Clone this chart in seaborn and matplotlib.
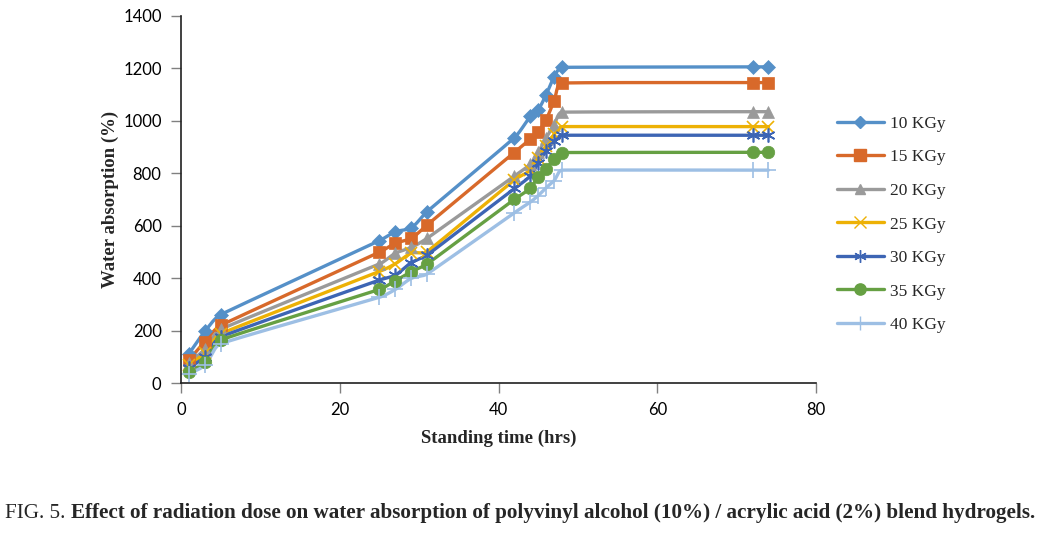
import numpy as np
import pandas as pd
import matplotlib
matplotlib.use("Agg")
import matplotlib.pyplot as plt
import seaborn as sns

# ---- data ----
hours = [1, 3, 5, 25, 27, 29, 31, 42, 44, 45, 46, 47, 48, 72, 74]
series_names = ["10 KGy", "15 KGy", "20 KGy", "25 KGy", "30 KGy", "35 KGy", "40 KGy"]
kgy10 = [112, 197, 261, 543, 577, 592, 654, 936, 1018, 1043, 1100, 1168, 1204, 1206, 1206]
kgy15 = [88, 158, 220, 499, 533, 552, 603, 879, 930, 958, 1005, 1076, 1144, 1146, 1146]
kgy20 = [75, 130, 205, 454, 495, 517, 552, 790, 835, 880, 935, 985, 1033, 1035, 1035]
kgy25 = [68, 115, 188, 425, 455, 495, 501, 775, 812, 860, 905, 948, 978, 978, 978]
kgy30 = [58, 100, 176, 393, 412, 459, 488, 742, 790, 840, 885, 922, 945, 945, 945]
kgy35 = [43, 80, 164, 357, 390, 425, 454, 701, 743, 787, 818, 853, 879, 880, 880]
kgy40 = [35, 68, 150, 327, 357, 399, 416, 650, 690, 715, 745, 772, 812, 812, 812]
all_values = [kgy10, kgy15, kgy20, kgy25, kgy30, kgy35, kgy40]

colors = ["#5590C8", "#D8692A", "#9A9A9A", "#EDB105", "#3D65B4", "#66A043", "#9DBFE4"]
markers = ["D", "s", "^", "x", (6, 2, 0), "o", "+"]
msizes = [7, 9, 8, 9, 10, 9, 11]

long_rows = []
for name, vals in zip(series_names, all_values):
    for h, v in zip(hours, vals):
        long_rows.append({"time": h, "value": v, "dose": name})
df = pd.DataFrame(long_rows)

XPX = 635 / 80.0    # display scale used only for the smoothing geometry
YPX = 367 / 1400.0


def smooth_curve(x, y, n=24, k=0.3, cap=1.5):
    """Smoothed line through the data points (cubic Bezier segments),
    tangent from neighbours, arm length capped by adjacent segment lengths."""
    P = np.column_stack([np.asarray(x, float) * XPX, np.asarray(y, float) * YPX])
    m = len(P)
    L = np.linalg.norm(np.diff(P, axis=0), axis=1)
    D = np.zeros_like(P)
    for i in range(m):
        d = P[min(i + 1, m - 1)] - P[max(i - 1, 0)]
        D[i] = d / (np.linalg.norm(d) + 1e-12)
    out = []
    t = np.linspace(0, 1, n, endpoint=False)[:, None]
    for i in range(m - 1):
        p1, p2 = P[i], P[i + 1]
        a1 = L[i] if i == 0 else min(L[i], cap * L[i - 1])
        a2 = L[i] if i == m - 2 else min(L[i], cap * L[i + 1])
        c1 = p1 + D[i] * a1 * k
        c2 = p2 - D[i + 1] * a2 * k
        seg = ((1 - t) ** 3) * p1 + 3 * ((1 - t) ** 2) * t * c1 + 3 * (1 - t) * t**2 * c2 + t**3 * p2
        out.append(seg)
    out.append(P[-1][None, :])
    out = np.vstack(out)
    return out[:, 0] / XPX, out[:, 1] / YPX


sns.set_theme(style="white")
plt.rcParams["font.family"] = ["Liberation Serif", "DejaVu Serif"]

fig = plt.figure(figsize=(10.49, 5.33), dpi=100)
ax = fig.add_axes([0.1726, 0.2814, 0.6053, 0.6886])

smooth_rows = []
for name, vals in zip(series_names, all_values):
    sx, sy = smooth_curve(hours, vals)
    for a, b in zip(sx, sy):
        smooth_rows.append({"time": a, "value": b, "dose": name})
sdf = pd.DataFrame(smooth_rows)

palette = dict(zip(series_names, colors))
sns.lineplot(data=sdf, x="time", y="value", hue="dose", palette=palette,
             linewidth=2.4, ax=ax, legend=False, sort=False, estimator=None)

handles = []
for name, col, mk, ms in zip(series_names, colors, markers, msizes):
    sub = df[df["dose"] == name]
    thin = mk in ("x", "+") or isinstance(mk, tuple)
    ax.plot(sub["time"], sub["value"], linestyle="none", marker=mk, markersize=ms,
            color=col, markeredgecolor=col, markeredgewidth=1.2 if thin else 0.5)
    h, = ax.plot([], [], color=col, linewidth=2.4, marker=mk, markersize=ms * 0.9,
                 markeredgecolor=col, markeredgewidth=1.0)
    handles.append(h)

ax.set_xlim(0, 80)
ax.set_ylim(0, 1400)
ax.set_xticks([0, 20, 40, 60, 80])
ax.set_yticks(range(0, 1401, 200))
ax.tick_params(axis="both", labelsize=12, colors="#808080", labelcolor="black",
               length=7, width=1, direction="out", left=True, bottom=True, pad=7)
for lab in ax.get_xticklabels() + ax.get_yticklabels():
    lab.set_family(["Lato", "DejaVu Sans"])
for s in ["top", "right"]:
    ax.spines[s].set_visible(False)
for s in ["left", "bottom"]:
    ax.spines[s].set_color("#202020")
    ax.spines[s].set_linewidth(1.2)
ax.set_xlabel("Standing time (hrs)", fontsize=13.5, fontweight="bold", labelpad=8)
ax.set_ylabel("Water absorption (%)", fontsize=13.5, fontweight="bold", labelpad=3)
ax.grid(False)

fig.legend(handles, series_names, loc="upper left", bbox_to_anchor=(0.783, 0.812),
           frameon=False, fontsize=12.5, handlelength=2.7, labelspacing=1.0,
           handletextpad=0.35)

# caption
fig.canvas.draw()
renderer = fig.canvas.get_renderer()
t1 = fig.text(0.005, 1 - 513 / 533, "FIG. 5. ", fontsize=14, va="center", ha="left")
t2 = fig.text(0.05, 1 - 513 / 533,
              "Effect of radiation dose on water absorption of polyvinyl alcohol (10%) / acrylic acid (2%) blend hydrogels.",
              fontsize=14, fontweight="bold", va="center", ha="left")
target = 1040 - 5
w1 = t1.get_window_extent(renderer).width
w2 = t2.get_window_extent(renderer).width
scale = target / (w1 + w2)
fs = 14 * scale
t1.set_fontsize(fs)
t2.set_fontsize(fs)
fig.canvas.draw()
w1 = t1.get_window_extent(renderer).width
t2.set_x((5 + w1) / fig.bbox.width)

fig.savefig("out.png", dpi=100)
